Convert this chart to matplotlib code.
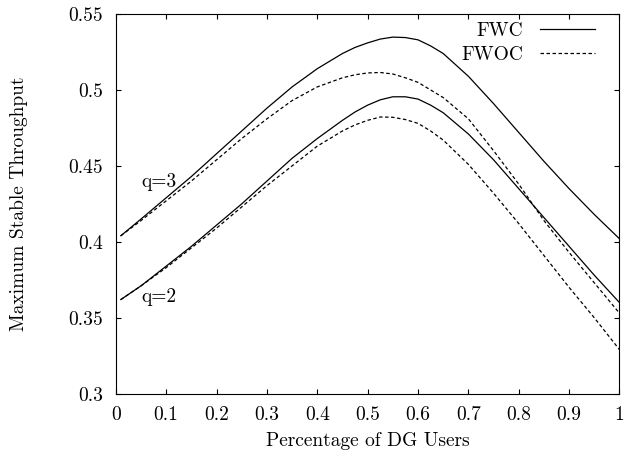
import matplotlib
matplotlib.use("Agg")
import matplotlib.pyplot as plt

# fraccion de usuarios DG
x = [0.01, 0.05, 0.10, 0.15, 0.20, 0.25, 0.30, 0.35, 0.40, 0.45, 0.475, 0.50,
     0.525, 0.55, 0.575, 0.60, 0.625, 0.65, 0.70, 0.75, 0.80, 0.85, 0.90, 0.95, 1.00]

q3_fwc = [0.404, 0.415, 0.429, 0.443, 0.458, 0.473, 0.488, 0.502, 0.514, 0.524, 0.528, 0.531,
          0.5335, 0.5348, 0.5345, 0.533, 0.529, 0.524, 0.509, 0.491, 0.472, 0.453, 0.435, 0.418, 0.402]
q3_fwoc = [0.404, 0.414, 0.427, 0.440, 0.454, 0.468, 0.481, 0.493, 0.502, 0.508, 0.510, 0.5112,
           0.5115, 0.5105, 0.508, 0.505, 0.500, 0.495, 0.481, 0.460, 0.438, 0.414, 0.393, 0.373, 0.353]
q2_fwc = [0.362, 0.371, 0.384, 0.397, 0.411, 0.425, 0.440, 0.455, 0.468, 0.480, 0.4855, 0.490,
          0.4935, 0.4955, 0.4955, 0.494, 0.490, 0.485, 0.471, 0.454, 0.435, 0.416, 0.397, 0.378, 0.360]
q2_fwoc = [0.362, 0.371, 0.383, 0.396, 0.409, 0.423, 0.437, 0.450, 0.463, 0.473, 0.477, 0.480,
           0.4822, 0.482, 0.4805, 0.478, 0.473, 0.467, 0.451, 0.432, 0.412, 0.391, 0.370, 0.350, 0.329]

xticks = [0, 0.1, 0.2, 0.3, 0.4, 0.5, 0.6, 0.7, 0.8, 0.9, 1]
xtick_labels = ["0", "0.1", "0.2", "0.3", "0.4", "0.5", "0.6", "0.7", "0.8", "0.9", "1"]
yticks = [0.3, 0.35, 0.4, 0.45, 0.5, 0.55]
ytick_labels = ["0.3", "0.35", "0.4", "0.45", "0.5", "0.55"]

plt.rcParams['font.family'] = ['cmr10', 'DejaVu Serif']
plt.rcParams['axes.formatter.use_mathtext'] = True
plt.rcParams['font.size'] = 14

fig = plt.figure(figsize=(6.26, 4.55), dpi=100)
ax = fig.add_axes([0.185, 0.1347, 0.8046, 0.8345])

dash = (2.8, 2.0)
ax.plot(x, q3_fwc, color="black", lw=0.9, label="FWC")
ax.plot(x, q3_fwoc, color="black", lw=0.9, dashes=dash, label="FWOC")
ax.plot(x, q2_fwc, color="black", lw=0.9)
ax.plot(x, q2_fwoc, color="black", lw=0.9, dashes=dash)

ax.text(0.051, 0.4395, "q=3", ha="left", va="center")
ax.text(0.050, 0.3639, "q=2", ha="left", va="center")

ax.set_xlim(0, 1)
ax.set_ylim(0.3, 0.55)
ax.set_xticks(xticks)
ax.set_xticklabels(xtick_labels)
ax.set_yticks(yticks)
ax.set_yticklabels(ytick_labels)
ax.tick_params(direction="in", length=3.6, width=0.8, top=True, right=True)
ax.tick_params(axis="x", pad=9)
ax.tick_params(axis="y", pad=9)
for s in ax.spines.values():
    s.set_linewidth(0.8)

ax.set_xlabel("Percentage of DG Users", labelpad=6)
ax.set_ylabel("Maximum Stable Throughput", labelpad=29)

ax.legend(loc="upper right", bbox_to_anchor=(0.951, 0.98), frameon=False,
          markerfirst=False, handlelength=2.8, handletextpad=0.9,
          labelspacing=0.33, borderpad=0, borderaxespad=0)

fig.savefig("out.png", dpi=100)
